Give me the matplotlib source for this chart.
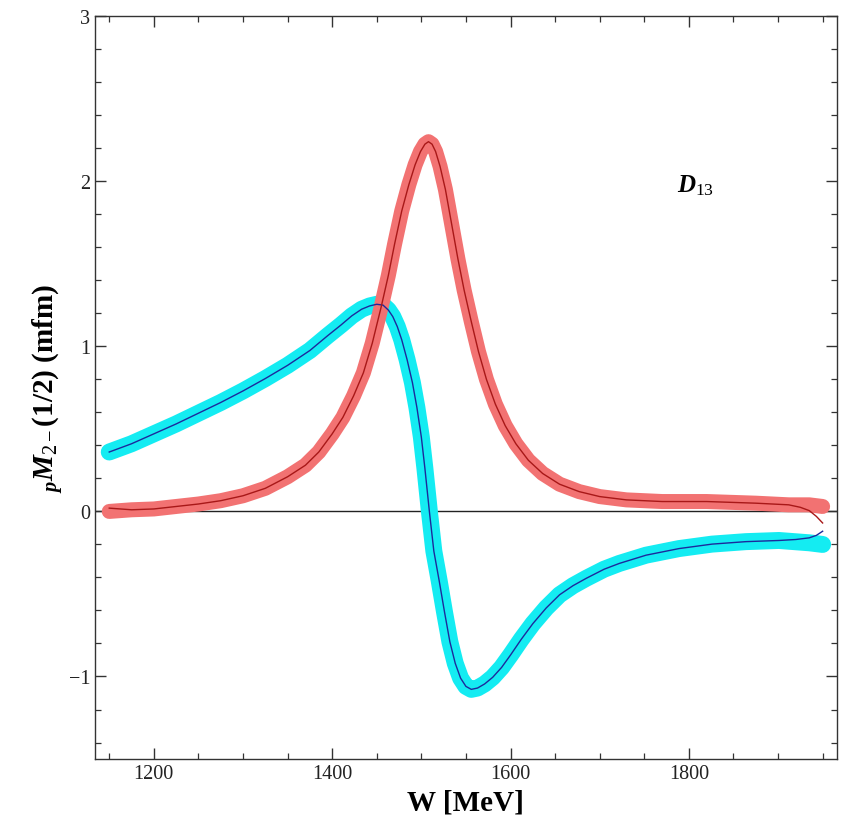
import numpy as np
import matplotlib
matplotlib.use("Agg")
import matplotlib.pyplot as plt
from matplotlib.ticker import MultipleLocator

# ---------------------------------------------------------------- fonts / style
plt.rcParams["font.family"] = ["Liberation Serif", "DejaVu Serif"]
plt.rcParams["mathtext.fontset"] = "custom"
plt.rcParams["mathtext.rm"] = "Liberation Serif"
plt.rcParams["mathtext.it"] = "Liberation Serif:italic:bold"
plt.rcParams["mathtext.bf"] = "Liberation Serif:bold"

# ---------------------------------------------------------------- colours
C_CYAN_BAND = "#14ecf2"
C_BLUE_LINE = "#1c2a9c"
C_RED_BAND  = "#f27272"
C_RED_LINE  = "#a81818"
C_FRAME     = "#333333"

# ---------------------------------------------------------------- data
# thin blue fit line
blue_w = [1150, 1175, 1200, 1225, 1250, 1275, 1300, 1325, 1350, 1375, 1395, 1410,
          1422, 1433, 1442, 1450, 1457, 1463, 1468, 1473, 1478, 1484, 1490, 1495,
          1500, 1504, 1509, 1514, 1520, 1526, 1532, 1538, 1544, 1550, 1556, 1563,
          1571, 1580, 1590, 1600, 1612, 1625, 1640, 1655, 1670, 1685, 1705, 1722,
          1752, 1789, 1826, 1864, 1901, 1920, 1935, 1943, 1950]
blue_m = [0.36, 0.41, 0.47, 0.53, 0.595, 0.66, 0.73, 0.805, 0.885, 0.975, 1.065, 1.13,
          1.185, 1.225, 1.245, 1.255, 1.25, 1.22, 1.18, 1.12, 1.04, 0.92, 0.78, 0.63,
          0.45, 0.26, 0.00, -0.24, -0.42, -0.61, -0.79, -0.92, -1.01, -1.06, -1.078, -1.07,
          -1.045, -1.005, -0.945, -0.87, -0.775, -0.68, -0.585, -0.505, -0.45, -0.405, -0.35, -0.315,
          -0.265, -0.225, -0.198, -0.183, -0.176, -0.17, -0.16, -0.145, -0.12]
# cyan band: same curve, stays flat at the upper end
cyan_w = blue_w[:-4] + [1935, 1950]
cyan_m = blue_m[:-4] + [-0.19, -0.20]

# thin red fit line
red_w = [1150, 1175, 1200, 1225, 1250, 1275, 1300, 1325, 1350, 1370, 1385, 1400,
         1412, 1424, 1435, 1445, 1455, 1463, 1470, 1478, 1486, 1493, 1499, 1504,
         1508, 1512, 1516, 1521, 1527, 1534, 1541, 1548, 1556, 1564, 1573, 1583,
         1594, 1606, 1620, 1636, 1655, 1677, 1700, 1730, 1770, 1820, 1875, 1912,
         1925, 1935, 1943, 1950]
red_m = [0.02, 0.01, 0.015, 0.03, 0.045, 0.065, 0.095, 0.14, 0.21, 0.28, 0.36, 0.47,
         0.57, 0.70, 0.84, 1.02, 1.24, 1.43, 1.62, 1.82, 1.98, 2.10, 2.18, 2.225,
         2.24, 2.225, 2.18, 2.09, 1.95, 1.74, 1.53, 1.34, 1.15, 0.97, 0.80, 0.65,
         0.52, 0.41, 0.31, 0.23, 0.165, 0.12, 0.09, 0.07, 0.06, 0.06, 0.05, 0.04,
         0.025, 0.005, -0.03, -0.07]
# salmon band: same curve, flat at both ends
band_w = [1150] + red_w[1:-4] + [1935, 1950]
band_m = [0.00] + red_m[1:-4] + [0.04, 0.03]

x_ticks = [1200, 1400, 1600, 1800]
y_ticks = [-1, 0, 1, 2, 3]

# ---------------------------------------------------------------- figure
fig = plt.figure(figsize=(8.45, 8.29), dpi=100)
ax = fig.add_axes([0.1124, 0.0832, 0.878, 0.896])

ax.axhline(0, color="#222222", linewidth=1.0, zorder=1)

# thick bands first, thin fit lines on top
ax.plot(cyan_w, cyan_m, color=C_CYAN_BAND, linewidth=12.2,
        solid_capstyle="round", solid_joinstyle="round", zorder=2)
ax.plot(band_w, band_m, color=C_RED_BAND, linewidth=10.8,
        solid_capstyle="round", solid_joinstyle="round", zorder=3)
ax.plot(blue_w, blue_m, color=C_BLUE_LINE, linewidth=1.0, zorder=4)
ax.plot(red_w, red_m, color=C_RED_LINE, linewidth=1.0, zorder=4)

ax.text(1787, 1.98, r"$D_{\mathrm{13}}$", fontsize=18, va="center", ha="left")

# ---------------------------------------------------------------- axes
ax.set_xlim(1134, 1966)
ax.set_ylim(-1.5, 3)
ax.set_xticks(x_ticks)
ax.set_yticks(y_ticks)
ax.xaxis.set_minor_locator(MultipleLocator(50))
ax.yaxis.set_minor_locator(MultipleLocator(0.2))
ax.tick_params(which="both", direction="in", top=True, right=True,
               color=C_FRAME, labelsize=14.5, labelcolor="#222222")
ax.tick_params(which="major", length=8, width=1.0)
ax.tick_params(which="minor", length=4.5, width=0.9)
for s in ax.spines.values():
    s.set_color(C_FRAME)
    s.set_linewidth(1.0)

ax.set_xlabel("W [MeV]", fontsize=21, fontweight="bold", labelpad=4)
ax.set_ylabel(r"${}_{p}M_{\mathrm{2-}}$(1/2) (mfm)", fontsize=21,
              fontweight="bold", labelpad=2)

fig.savefig("out.png", dpi=100)
